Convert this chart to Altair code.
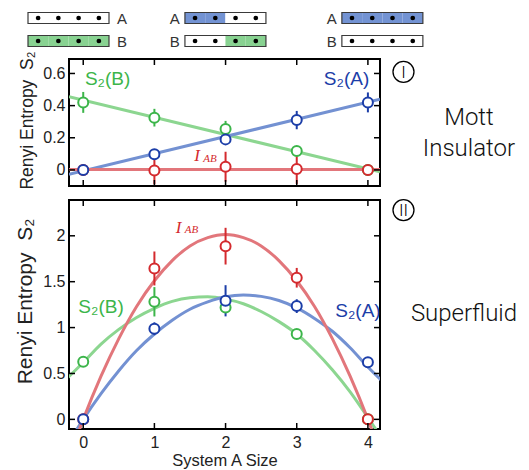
import altair as alt
import pandas as pd

# ---------------- data ----------------
system_size = [0, 1, 2, 3, 4]

# Panel I : Mott insulator
mott_S2A = [0.0, 0.097, 0.19, 0.31, 0.42]
mott_S2A_err = [0.0, 0.02, 0.03, 0.057, 0.062]
mott_S2B = [0.42, 0.325, 0.255, 0.118, 0.0]
mott_S2B_err = [0.065, 0.055, 0.05, 0.015, 0.0]
mott_IAB = [0.0, -0.004, 0.02, 0.006, 0.0]
mott_IAB_err = [0.0, 0.085, 0.093, 0.093, 0.0]

mott_fit_x = [-0.2, 4.17]
mott_fit_S2A = [-0.027, 0.44]
mott_fit_S2B = [0.456, -0.012]
mott_fit_IAB = [0.002, 0.002]

# Panel II : Superfluid
sf_S2A = [0.0, 0.987, 1.292, 1.234, 0.621]
sf_S2A_err = [0.0, 0.07, 0.17, 0.075, 0.0]
sf_S2B = [0.628, 1.281, 1.22, 0.929, 0.0]
sf_S2B_err = [0.0, 0.16, 0.03, 0.02, 0.0]
sf_IAB = [0.0, 1.644, 1.887, 1.543, 0.0]
sf_IAB_err = [0.0, 0.185, 0.2, 0.107, 0.0]

sf_fit_x = [-0.25, 0.0, 0.25, 0.5, 0.75, 1.0, 1.25, 1.5, 1.75, 2.0,
            2.25, 2.5, 2.75, 3.0, 3.25, 3.5, 3.75, 4.0, 4.25]
sf_fit_S2A = [-0.31, 0.0, 0.28, 0.53, 0.75, 0.93, 1.08, 1.20, 1.28, 1.335,
              1.355, 1.34, 1.295, 1.215, 1.10, 0.96, 0.78, 0.57, 0.38]
sf_fit_S2B = [0.43, 0.62, 0.82, 0.98, 1.11, 1.21, 1.285, 1.325, 1.335, 1.31,
              1.26, 1.175, 1.065, 0.93, 0.75, 0.54, 0.30, 0.02, -0.27]
sf_fit_IAB = [-0.54, 0.0, 0.47, 0.88, 1.23, 1.51, 1.73, 1.89, 1.98, 2.015,
              1.98, 1.89, 1.73, 1.51, 1.23, 0.88, 0.47, 0.0, -0.54]

mott_yticks = [0, 0.2, 0.4, 0.6]
sf_yticks = [0, 0.5, 1, 1.5, 2]

# schematic of the 4-site chain split into A and B
diagram_in_A = [[0, 0, 0, 0], [1, 1, 0, 0], [1, 1, 1, 1]]
diagram_in_B = [[1, 1, 1, 1], [0, 0, 1, 1], [0, 0, 0, 0]]
diagram_label_side = ["right", "left", "left"]

# ---------------- styling ----------------
FONT = "Liberation Sans"
LIGHT_FONT = "Roboto"
W = 311
H_TOP = 127
H_BOT = 229
TICK = 6

DARK = {"S2A": "#1c3ea8", "S2B": "#3cb54a", "IAB": "#d42a2e"}
LIGHT = {"S2A fit": "#7391d2", "S2B fit": "#8cd690", "IAB fit": "#e2767b"}
BLUE_FILL = "#7393d3"
GREEN_FILL = "#88d291"

color_scale = alt.Scale(domain=list(DARK) + list(LIGHT),
                        range=list(DARK.values()) + list(LIGHT.values()))
COLOR = alt.Color("series:N", scale=color_scale, legend=None)


def points_df(sa, sae, sb, sbe, ia, iae):
    rows = []
    for name, vals, errs in [("S2B", sb, sbe), ("IAB", ia, iae), ("S2A", sa, sae)]:
        for x, v, e in zip(system_size, vals, errs):
            rows.append({"series": name, "x": x, "y": v, "lo": v - e, "hi": v + e, "e": e})
    return pd.DataFrame(rows)


def fit_df(xs, sa, sb, ia):
    rows = []
    for name, vals in [("S2B fit", sb), ("S2A fit", sa), ("IAB fit", ia)]:
        for x, v in zip(xs, vals):
            rows.append({"series": name, "x": x, "y": v})
    return pd.DataFrame(rows)


def panel(pts, fits, X, Y, yscale, yticks, H, texts, italic, right_texts, circ):
    lines = alt.Chart(fits).mark_line(strokeWidth=3, interpolate="monotone", clip=True).encode(
        x=X, y=Y, color=COLOR, detail="series:N")
    errs = alt.Chart(pts[pts["e"] > 0]).mark_rule(strokeWidth=2, clip=True).encode(
        x=X, y=alt.Y("lo:Q", scale=yscale), y2="hi:Q", color=COLOR)
    dots = alt.Chart(pts).mark_point(shape="circle", filled=False, fill="white", fillOpacity=1,
                                     opacity=1, size=100, strokeWidth=2).encode(x=X, y=Y, color=COLOR)
    ydf = pd.DataFrame({"y": yticks})
    xdf = pd.DataFrame({"x": system_size})
    tl = alt.Chart(ydf).mark_rule(color="black", strokeWidth=1.5).encode(
        y=Y, x=alt.value(0), x2=alt.value(TICK))
    tr = alt.Chart(ydf).mark_rule(color="black", strokeWidth=1.5).encode(
        y=Y, x=alt.value(W - TICK), x2=alt.value(W))
    tb = alt.Chart(xdf).mark_rule(color="black", strokeWidth=1.5).encode(
        x=X, y=alt.value(H - TICK), y2=alt.value(H))
    tt = alt.Chart(xdf).mark_rule(color="black", strokeWidth=1.5).encode(
        x=X, y=alt.value(0), y2=alt.value(TICK))
    lab = alt.Chart(pd.DataFrame(texts)).mark_text(
        font=FONT, fontSize=19, align="center", baseline="middle").encode(
        x=X, y=Y, text="t:N", color=alt.Color("c:N", scale=None))
    ital = alt.Chart(pd.DataFrame(italic)).mark_text(
        font="Liberation Serif", fontStyle="italic", align="center", baseline="middle",
        color=DARK["IAB"]).encode(x=X, y=Y, text="t:N", size=alt.Size("s:Q", scale=None))
    rt = alt.Chart(pd.DataFrame(right_texts)).mark_text(
        font=LIGHT_FONT, fontWeight=300, fontSize=24, align="center", baseline="alphabetic",
        color="#111").encode(x=X, y=Y, text="t:N")
    ring = alt.Chart(pd.DataFrame(circ)).mark_point(
        shape="circle", filled=False, size=441, strokeWidth=1.3, color="black", opacity=1).encode(x=X, y=Y)
    ring_t = alt.Chart(pd.DataFrame(circ)).mark_text(
        font=LIGHT_FONT, fontWeight=300, fontSize=17, align="center", baseline="middle",
        color="black", dy=1).encode(x=X, y=Y, text="t:N")
    return alt.layer(lines, errs, dots, tl, tr, tb, tt, lab, ital, rt, ring, ring_t)


XDOM = [-0.2, 4.17]

# ---------------- panel I ----------------
xs_top = alt.Scale(domain=XDOM, nice=False, zero=False)
ys_top = alt.Scale(domain=[-0.1, 0.69], nice=False, zero=False)
X_top = alt.X("x:Q", scale=xs_top, axis=None)
Y_top = alt.Y("y:Q", scale=ys_top,
              axis=alt.Axis(values=mott_yticks, format="~g", title="Renyi Entropy\u00a0 S\u2082",
                            titleFontSize=17.5, titlePadding=6, labelPadding=4, titleY=61))

top_panel = panel(
    points_df(mott_S2A, mott_S2A_err, mott_S2B, mott_S2B_err, mott_IAB, mott_IAB_err),
    fit_df(mott_fit_x, mott_fit_S2A, mott_fit_S2B, mott_fit_IAB),
    X_top, Y_top, ys_top, mott_yticks, H_TOP,
    {"x": [0.342, 3.70], "y": [0.563, 0.563], "t": ["S\u2082(B)", "S\u2082(A)"],
     "c": [DARK["S2B"], DARK["S2A"]]},
    {"x": [1.60, 1.78], "y": [0.084, 0.070], "t": ["I", "AB"], "s": [17, 11]},
    {"x": [5.42, 5.42], "y": [0.281, 0.089], "t": ["Mott", "Insulator"]},
    {"x": [4.5], "y": [0.61], "t": ["I"]},
)

# schematic above panel I
GAP = 7.75
rects, outlines, sites, labels = [], [], [], []
for g in range(3):
    for r, (name, mask, col) in enumerate([("A", diagram_in_A[g], BLUE_FILL),
                                           ("B", diagram_in_B[g], GREEN_FILL)]):
        for s in range(4):
            rects.append({"x0": g * GAP + s, "x1": g * GAP + s + 1,
                          "y0": r - 0.24, "y1": r + 0.24,
                          "f": col if mask[s] else "white"})
            sites.append({"xc": g * GAP + s + 0.5, "yc": r})
        outlines.append({"x0": g * GAP, "x1": g * GAP + 4, "y0": r - 0.24, "y1": r + 0.24})
        labels.append({"xc": g * GAP + (4.64 if diagram_label_side[g] == "right" else -0.5),
                       "yc": r, "t": name})

DX = alt.Scale(domain=[0, 20], range=[-41, 364], nice=False, zero=False)
DY = alt.Scale(domain=[0, 1], range=[-41, -18], nice=False, zero=False)
d_rect = alt.Chart(pd.DataFrame(rects)).mark_rect(strokeWidth=0).encode(
    x=alt.X("x0:Q", scale=DX, axis=None), x2="x1:Q",
    y=alt.Y("y0:Q", scale=DY, axis=None), y2="y1:Q",
    fill=alt.Fill("f:N", scale=None))
d_out = alt.Chart(pd.DataFrame(outlines)).mark_rect(
    fillOpacity=0, stroke="#3a3a3a", strokeWidth=1.2).encode(
    x=alt.X("x0:Q", scale=DX, axis=None), x2="x1:Q",
    y=alt.Y("y0:Q", scale=DY, axis=None), y2="y1:Q")
d_dot = alt.Chart(pd.DataFrame(sites)).mark_circle(size=22, color="black", opacity=1).encode(
    x=alt.X("xc:Q", scale=DX, axis=None), y=alt.Y("yc:Q", scale=DY, axis=None))
d_lab = alt.Chart(pd.DataFrame(labels)).mark_text(
    font=FONT, fontSize=15, align="center", baseline="middle", color="#333", dy=1).encode(
    x=alt.X("xc:Q", scale=DX, axis=None), y=alt.Y("yc:Q", scale=DY, axis=None), text="t:N")
diagram = alt.layer(d_rect, d_out, d_dot, d_lab)

top = alt.layer(top_panel, diagram).resolve_scale(
    x="independent", y="independent").properties(width=W, height=H_TOP)

# ---------------- panel II ----------------
xs_bot = alt.Scale(domain=XDOM, nice=False, zero=False)
ys_bot = alt.Scale(domain=[-0.105, 2.39], nice=False, zero=False)
X_bot = alt.X("x:Q", scale=xs_bot,
              axis=alt.Axis(values=system_size, format="d", title="System A Size",
                            titleFontSize=16.5, titlePadding=2, labelPadding=5, labelFlush=False))
Y_bot = alt.Y("y:Q", scale=ys_bot,
              axis=alt.Axis(values=sf_yticks, format="~g", title="Renyi Entropy\u00a0 S\u2082",
                            titleFontSize=21, titlePadding=7, labelPadding=4, titleY=101))

bottom = panel(
    points_df(sf_S2A, sf_S2A_err, sf_S2B, sf_S2B_err, sf_IAB, sf_IAB_err),
    fit_df(sf_fit_x, sf_fit_S2A, sf_fit_S2B, sf_fit_IAB),
    X_bot, Y_bot, ys_bot, sf_yticks, H_BOT,
    {"x": [0.25, 3.86], "y": [1.227, 1.18], "t": ["S\u2082(B)", "S\u2082(A)"],
     "c": [DARK["S2B"], DARK["S2A"]]},
    {"x": [1.34, 1.52], "y": [2.081, 2.06], "t": ["I", "AB"], "s": [17, 11]},
    {"x": [5.35], "y": [1.075], "t": ["Superfluid"]},
    {"x": [4.5], "y": [2.28], "t": ["II"]},
).properties(width=W, height=H_BOT)

chart = alt.vconcat(top, bottom, spacing=14, bounds="flush").resolve_scale(
    x="independent", y="independent", color="independent"
).properties(
    padding={"left": 5, "top": 2, "right": 0, "bottom": 0}
).configure_view(
    stroke="black", strokeWidth=2
).configure_axis(
    labelFont=FONT, labelFontSize=16, labelColor="#222",
    titleFont=FONT, titleFontWeight="normal", titleColor="#222",
    domain=False, ticks=False, grid=False
)

chart.save("out.html", embed_options={"renderer": "svg", "actions": False})
